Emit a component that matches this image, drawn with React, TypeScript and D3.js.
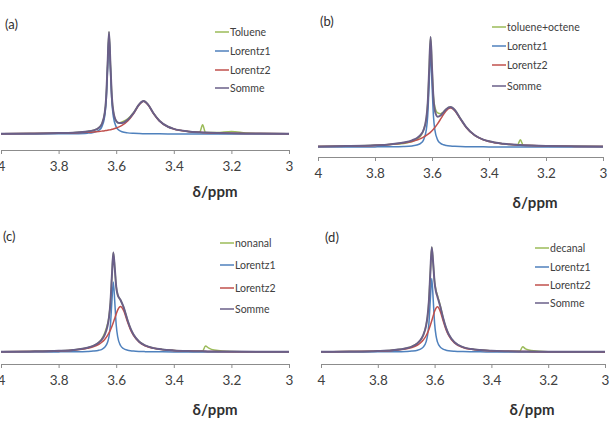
import * as d3 from 'd3';
import React, { useEffect, useRef } from 'react';

// ppm tick labels shared by all four panels
const ppmTicks = [4, 3.8, 3.6, 3.4, 3.2, 3];
const fitNames = ['Lorentz1', 'Lorentz2', 'Somme'];

// (a) toluene
const ppmA = [4.0, 3.9, 3.8, 3.75, 3.7, 3.68, 3.66, 3.65, 3.64, 3.635, 3.63, 3.625, 3.62, 3.615, 3.61, 3.6, 3.59, 3.58, 3.56, 3.54, 3.52, 3.505, 3.49, 3.47, 3.45, 3.42, 3.4, 3.35, 3.31, 3.3, 3.29, 3.25, 3.2, 3.15, 3.1, 3.0];
const tolueneA = [0.26, 0.47, 0.88, 1.34, 2.45, 3.51, 6.18, 9.8, 20.4, 35.0, 67.3, 100, 67.8, 36.2, 22.2, 12.8, 10.9, 11.8, 14.8, 20.8, 29.2, 32.3, 29.1, 20.1, 13.0, 7.1, 5.05, 2.55, 1.8, 9.0, 1.5, 1.4, 2.4, 1.0, 0.41, 0.26];
const lorentz1A = [0.03, 0.06, 0.15, 0.3, 0.83, 1.53, 3.69, 6.98, 17.2, 31.6, 63.6, 96, 63.6, 31.6, 17.2, 6.98, 3.69, 2.27, 1.1, 0.64, 0.42, 0.33, 0.26, 0.2, 0.15, 0.11, 0.09, 0.06, 0.05, 0.04, 0.04, 0.03, 0.03, 0.02, 0.02, 0.01];
const lorentz2A = [0.26, 0.41, 0.73, 1.04, 1.62, 1.98, 2.49, 2.82, 3.19, 3.43, 3.66, 3.95, 4.24, 4.6, 4.96, 5.86, 7.0, 8.47, 12.8, 19.9, 28.8, 32, 28.8, 19.9, 12.8, 7.0, 4.96, 2.49, 1.62, 1.47, 1.34, 0.97, 0.68, 0.51, 0.39, 0.25];
const sommeA = [0.29, 0.47, 0.88, 1.34, 2.45, 3.51, 6.18, 9.8, 20.4, 35.0, 67.3, 100, 67.8, 36.2, 22.2, 12.8, 10.7, 10.7, 13.9, 20.5, 29.2, 32.3, 29.1, 20.1, 13.0, 7.1, 5.05, 2.55, 1.67, 1.51, 1.38, 1.0, 0.71, 0.53, 0.41, 0.26];

// (b) toluene+octene
const ppmB = [4.0, 3.9, 3.8, 3.75, 3.7, 3.67, 3.65, 3.64, 3.63, 3.62, 3.615, 3.61, 3.605, 3.6, 3.595, 3.59, 3.58, 3.57, 3.56, 3.55, 3.535, 3.52, 3.5, 3.48, 3.45, 3.42, 3.4, 3.35, 3.3, 3.29, 3.28, 3.25, 3.2, 3.1, 3.0];
const octeneB = [0.52, 0.84, 1.5, 2.2, 3.2, 5.0, 7.6, 10.0, 15.2, 26.0, 39.8, 69.7, 100, 72.1, 46.0, 36.5, 31.0, 30.2, 31.8, 34.42, 36.36, 33.62, 25.65, 18.02, 10.66, 6.74, 5.16, 2.96, 1.9, 6.5, 1.7, 1.31, 0.96, 0.58, 0.38];
const lorentz1B = [0.03, 0.05, 0.11, 0.2, 0.47, 0.99, 2.04, 3.33, 6.29, 15.5, 28.4, 57.3, 86.5, 57.3, 28.4, 15.5, 6.29, 3.33, 2.04, 1.38, 0.86, 0.58, 0.38, 0.27, 0.18, 0.12, 0.1, 0.07, 0.05, 0.05, 0.04, 0.03, 0.03, 0.02, 0.01];
const lorentz2B = [0.49, 0.79, 1.47, 2.18, 3.55, 5.06, 6.62, 7.64, 8.91, 10.48, 11.39, 12.41, 13.55, 14.81, 16.21, 17.75, 21.27, 25.27, 29.42, 33.04, 35.5, 33.04, 25.27, 17.75, 10.48, 6.62, 5.06, 2.89, 1.85, 1.7, 1.58, 1.28, 0.93, 0.56, 0.37];
const sommeB = [0.52, 0.84, 1.58, 2.38, 4.02, 6.05, 8.66, 10.97, 15.2, 26.0, 39.8, 69.7, 100, 72.1, 44.6, 33.25, 27.56, 28.6, 31.46, 34.42, 36.36, 33.62, 25.65, 18.02, 10.66, 6.74, 5.16, 2.96, 1.9, 1.75, 1.62, 1.31, 0.96, 0.58, 0.38];

// (c) nonanal
const ppmC = [4.0, 3.9, 3.8, 3.75, 3.7, 3.68, 3.66, 3.65, 3.64, 3.63, 3.625, 3.62, 3.615, 3.61, 3.605, 3.6, 3.595, 3.585, 3.575, 3.56, 3.55, 3.54, 3.52, 3.5, 3.47, 3.44, 3.4, 3.35, 3.3, 3.29, 3.28, 3.26, 3.2, 3.1, 3.0];
const nonanalC = [0.33, 0.57, 1.23, 2.08, 4.2, 6.07, 9.8, 13.2, 19.0, 28.0, 35.5, 49.39, 75.88, 99.53, 84.1, 65.39, 57.38, 52.0, 45.36, 31.28, 23.31, 17.44, 10.33, 6.65, 3.88, 2.52, 1.59, 1.0, 1.0, 6.0, 4.2, 2.0, 0.6, 0.24, 0.16];
const lorentz1C = [0.03, 0.05, 0.12, 0.23, 0.55, 0.9, 1.75, 2.69, 4.65, 9.66, 15.5, 27.3, 50.3, 70, 50.3, 27.3, 15.5, 6.5, 3.48, 1.75, 1.22, 0.9, 0.55, 0.37, 0.23, 0.15, 0.1, 0.07, 0.05, 0.04, 0.04, 0.04, 0.03, 0.02, 0.01];
const lorentz2C = [0.3, 0.52, 1.11, 1.85, 3.65, 5.17, 7.76, 9.78, 12.58, 16.54, 19.09, 22.09, 25.58, 29.53, 33.8, 38.09, 41.88, 45.5, 41.88, 29.53, 22.09, 16.54, 9.78, 6.28, 3.65, 2.37, 1.49, 0.93, 0.64, 0.6, 0.56, 0.49, 0.35, 0.22, 0.15];
const sommeC = [0.33, 0.57, 1.23, 2.08, 4.2, 6.07, 9.51, 12.47, 17.23, 26.2, 34.59, 49.39, 75.88, 99.53, 84.1, 65.39, 57.38, 52.0, 45.36, 31.28, 23.31, 17.44, 10.33, 6.65, 3.88, 2.52, 1.59, 1.0, 0.69, 0.64, 0.6, 0.53, 0.38, 0.24, 0.16];

// (d) decanal
const ppmD = [4.0, 3.9, 3.8, 3.75, 3.7, 3.68, 3.66, 3.65, 3.64, 3.63, 3.625, 3.62, 3.615, 3.61, 3.605, 3.6, 3.595, 3.59, 3.58, 3.57, 3.56, 3.55, 3.53, 3.5, 3.47, 3.44, 3.4, 3.35, 3.3, 3.29, 3.28, 3.26, 3.2, 3.1, 3.0];
const decanalD = [0.26, 0.45, 0.98, 1.69, 3.53, 5.2, 8.42, 11.29, 16.03, 25.14, 33.71, 48.8, 75.68, 99.77, 84.7, 67.0, 59.0, 54.0, 44.0, 32.46, 23.25, 16.7, 9.29, 4.67, 2.76, 1.8, 1.15, 0.73, 0.8, 5.0, 3.0, 1.5, 0.3, 0.0, -0.3];
const lorentz1D = [0.03, 0.05, 0.12, 0.23, 0.55, 0.9, 1.75, 2.69, 4.65, 9.66, 15.5, 27.3, 50.3, 70, 50.3, 27.3, 15.5, 9.66, 4.65, 2.69, 1.75, 1.22, 0.69, 0.37, 0.23, 0.15, 0.1, 0.07, 0.05, 0.04, 0.04, 0.04, 0.03, 0.02, 0.01];
const lorentz2D = [0.23, 0.4, 0.86, 1.46, 2.98, 4.3, 6.67, 8.6, 11.38, 15.48, 18.21, 21.5, 25.38, 29.77, 34.4, 38.7, 41.84, 43, 38.7, 29.77, 21.5, 15.48, 8.6, 4.3, 2.53, 1.65, 1.05, 0.66, 0.46, 0.43, 0.4, 0.35, 0.25, 0.16, 0.11];
const sommeD = [0.26, 0.45, 0.98, 1.69, 3.53, 5.2, 8.42, 11.29, 16.03, 25.14, 33.71, 48.8, 75.68, 99.77, 84.7, 66.0, 57.34, 52.66, 43.35, 32.46, 23.25, 16.7, 9.29, 4.67, 2.76, 1.8, 1.15, 0.73, 0.51, 0.47, 0.44, 0.39, 0.28, 0.18, 0.12];

const colors = ['#9bbb59', '#4f81bd', '#c0504d', '#6a5f88'];
const widths = [1.5, 1.5, 1.5, 2];
const font = 'Lato, "Open Sans", sans-serif';

const panels = [
  {
    letter: '(a)', name: 'Toluene', ppm: ppmA, series: [tolueneA, lorentz1A, lorentz2A, sommeA],
    x0: 1, x1: 289, axisY: 150, base: 134, top: 32,
    letterPos: [5, 29], legX: 215, legRows: [32, 51, 70, 88], titleX: 215, titleY: 192,
  },
  {
    letter: '(b)', name: 'toluene+octene', ppm: ppmB, series: [octeneB, lorentz1B, lorentz2B, sommeB],
    x0: 318, x1: 603, axisY: 157, base: 147, top: 37,
    letterPos: [320, 26], legX: 492, legRows: [27, 46, 65, 86], titleX: 535, titleY: 203,
  },
  {
    letter: '(c)', name: 'nonanal', ppm: ppmC, series: [nonanalC, lorentz1C, lorentz2C, sommeC],
    x0: 1, x1: 289, axisY: 364, base: 352, top: 252,
    letterPos: [3, 241], legX: 220, legRows: [243, 265, 288, 309], titleX: 215, titleY: 410,
  },
  {
    letter: '(d)', name: 'decanal', ppm: ppmD, series: [decanalD, lorentz1D, lorentz2D, sommeD],
    x0: 321, x1: 605, axisY: 364, base: 352, top: 247,
    letterPos: [325, 242], legX: 535, legRows: [248, 267, 285, 303], titleX: 532, titleY: 410,
  },
];

const Panel = ({ p }) => {
  const axisRef = useRef(null);
  const x = d3.scaleLinear().domain([4, 3]).range([p.x0, p.x1]);
  const y = d3.scaleLinear().domain([0, 100]).range([p.base, p.top]);

  useEffect(() => {
    const g = d3.select(axisRef.current);
    g.call(
      d3.axisBottom(x).tickValues(ppmTicks).tickFormat((d) => String(d)).tickSize(4).tickSizeOuter(0).tickPadding(7)
    );
    g.select('.domain').attr('stroke', '#8c8c8c');
    g.selectAll('.tick line').attr('stroke', '#8c8c8c');
    g.selectAll('.tick text').attr('fill', '#404040').style('font-size', '13.5px').style('font-family', font);
  });

  const names = [p.name, ...fitNames];

  return (
    <g>
      {p.series.map((vals, i) => {
        const line = d3
          .line()
          .x((d, j) => x(p.ppm[j]))
          .y((d) => y(d))
          .curve(d3.curveMonotoneX);
        return <path key={i} d={line(vals)} fill="none" stroke={colors[i]} strokeWidth={widths[i]} strokeLinejoin="round" />;
      })}
      <g ref={axisRef} transform={`translate(0,${p.axisY})`} />
      <text x={p.letterPos[0]} y={p.letterPos[1]} fontSize={13} fill="#303030" fontFamily={font}>
        {p.letter}
      </text>
      {names.map((n, i) => (
        <g key={n}>
          <line x1={p.legX} x2={p.legX + 14} y1={p.legRows[i]} y2={p.legRows[i]} stroke={colors[i]} strokeWidth={1.5} />
          <text x={p.legX + 15} y={p.legRows[i]} dy="0.35em" fontSize={10.5} fill="#404040" fontFamily={font}>
            {n}
          </text>
        </g>
      ))}
      <text x={p.titleX} y={p.titleY} dy="0.35em" textAnchor="middle" fontSize={15} fontWeight="bold" fill="#303030" fontFamily={font}>
        δ/ppm
      </text>
    </g>
  );
};

export default function App() {
  return (
    <svg width={613} height={423} style={{ position: 'absolute', left: 0, top: 0, background: '#fff' }}>
      {panels.map((p) => (
        <Panel key={p.letter} p={p} />
      ))}
    </svg>
  );
}
